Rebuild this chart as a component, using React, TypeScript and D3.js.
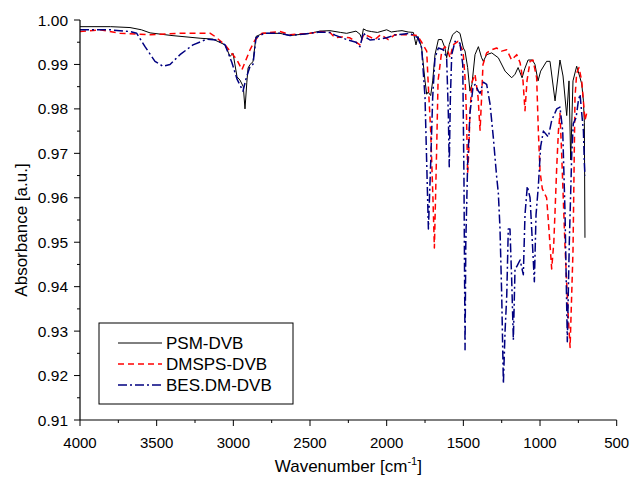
import React from "react";
import * as d3 from "d3";

const xTicks = [4000, 3500, 3000, 2500, 2000, 1500, 1000, 500];
const yTicks = [0.91, 0.92, 0.93, 0.94, 0.95, 0.96, 0.97, 0.98, 0.99, 1.0];
const seriesNames = ["PSM-DVB", "DMSPS-DVB", "BES.DM-DVB"];

const psm: [number, number][] = [
  [4000, 0.9985], [3800, 0.9985], [3674, 0.9983], [3600, 0.9978], [3543, 0.9971], [3400, 0.9965],
  [3217, 0.9959], [3133, 0.9957], [3054, 0.9944], [3022, 0.9918], [3002, 0.9925], [2976, 0.9872],
  [2957, 0.9865], [2935, 0.985], [2924, 0.98], [2912, 0.986], [2904, 0.9892], [2891, 0.99],
  [2872, 0.9906], [2852, 0.9963], [2807, 0.997], [2696, 0.997], [2630, 0.9965], [2500, 0.997],
  [2435, 0.9975], [2370, 0.9976], [2300, 0.9972], [2261, 0.997], [2200, 0.9975], [2174, 0.9968],
  [2163, 0.9958], [2152, 0.998], [2130, 0.9976], [2100, 0.9974], [2060, 0.9972], [2000, 0.9978],
  [1970, 0.9973], [1930, 0.9975], [1900, 0.9976], [1860, 0.9973], [1826, 0.9972], [1809, 0.9944],
  [1796, 0.9963], [1783, 0.995], [1772, 0.9937], [1750, 0.9863], [1739, 0.9833], [1730, 0.9838],
  [1713, 0.983], [1700, 0.9863], [1685, 0.9922], [1663, 0.9956], [1641, 0.9956], [1620, 0.9937],
  [1609, 0.9915], [1592, 0.9945], [1570, 0.9967], [1543, 0.9975], [1522, 0.997], [1500, 0.9937],
  [1489, 0.993], [1472, 0.9893], [1457, 0.984], [1444, 0.9855], [1424, 0.9922], [1402, 0.994],
  [1381, 0.9915], [1370, 0.9907], [1348, 0.9922], [1315, 0.9926], [1272, 0.9915], [1228, 0.9885],
  [1185, 0.987], [1163, 0.9878], [1143, 0.9893], [1117, 0.987], [1100, 0.989], [1078, 0.991],
  [1050, 0.991], [1033, 0.99], [1013, 0.9863], [996, 0.9885], [957, 0.9907], [935, 0.9907],
  [902, 0.9818], [870, 0.991], [850, 0.9874], [826, 0.9785], [811, 0.9863], [800, 0.9685],
  [785, 0.9863], [761, 0.9896], [739, 0.987], [728, 0.9856], [717, 0.9818], [711, 0.977], [707, 0.951],
];

const dmsps: [number, number][] = [
  [4000, 0.9974], [3870, 0.9978], [3740, 0.997], [3543, 0.9967], [3350, 0.997], [3150, 0.997],
  [3120, 0.9963], [3054, 0.9944], [2976, 0.991], [2944, 0.9888], [2918, 0.991], [2891, 0.9933],
  [2859, 0.9955], [2813, 0.997], [2696, 0.9974], [2630, 0.9967], [2500, 0.997], [2435, 0.9974],
  [2370, 0.9972], [2337, 0.996], [2300, 0.9962], [2240, 0.996], [2174, 0.9944], [2150, 0.9968],
  [2109, 0.9962], [2076, 0.9956], [2040, 0.9967], [1989, 0.9956], [1946, 0.9967], [1900, 0.9967],
  [1860, 0.9967], [1826, 0.9966], [1800, 0.9965], [1772, 0.995], [1739, 0.993], [1730, 0.9863],
  [1713, 0.975], [1698, 0.9596], [1689, 0.9487], [1674, 0.9712], [1665, 0.9863], [1641, 0.993],
  [1620, 0.994], [1600, 0.993], [1587, 0.9915], [1567, 0.9944], [1535, 0.9952], [1502, 0.993],
  [1489, 0.987], [1480, 0.979], [1472, 0.9655], [1465, 0.97], [1457, 0.979], [1444, 0.986],
  [1424, 0.9878], [1404, 0.9826], [1391, 0.9752], [1381, 0.9826], [1372, 0.99], [1348, 0.9926],
  [1315, 0.9933], [1283, 0.9937], [1250, 0.993], [1217, 0.9933], [1185, 0.991], [1152, 0.9922],
  [1130, 0.9904], [1111, 0.9863], [1098, 0.9796], [1085, 0.9863], [1065, 0.9907], [1046, 0.991],
  [1022, 0.987], [1011, 0.975], [1000, 0.966], [985, 0.962], [957, 0.96], [940, 0.952],
  [924, 0.944], [910, 0.95], [902, 0.957], [891, 0.967], [880, 0.975], [870, 0.979],
  [859, 0.97], [837, 0.949], [817, 0.934], [804, 0.9263], [785, 0.948], [772, 0.9826],
  [761, 0.988], [746, 0.9893], [728, 0.9863], [707, 0.9774], [696, 0.979],
];

const besdm: [number, number][] = [
  [4000, 0.9978], [3804, 0.9978], [3674, 0.9974], [3630, 0.997], [3576, 0.994], [3511, 0.9907],
  [3459, 0.9896], [3413, 0.99], [3348, 0.9922], [3263, 0.9944], [3172, 0.9957], [3107, 0.9955],
  [3054, 0.9944], [3009, 0.9904], [2976, 0.9867], [2937, 0.984], [2918, 0.9867], [2891, 0.9896],
  [2872, 0.99], [2852, 0.996], [2800, 0.997], [2696, 0.997], [2630, 0.9965], [2500, 0.997],
  [2435, 0.9973], [2370, 0.9972], [2337, 0.9966], [2261, 0.9956], [2200, 0.995], [2174, 0.994],
  [2152, 0.9972], [2130, 0.996], [2109, 0.9955], [2050, 0.9957], [2000, 0.996], [1950, 0.9966],
  [1900, 0.9968], [1848, 0.997], [1796, 0.996], [1772, 0.9937], [1750, 0.9826], [1739, 0.9678],
  [1728, 0.953], [1713, 0.9678], [1700, 0.9826], [1685, 0.9915], [1663, 0.9937], [1631, 0.9933],
  [1609, 0.9915], [1598, 0.9789], [1592, 0.967], [1585, 0.982], [1576, 0.9922], [1554, 0.9952],
  [1522, 0.9948], [1504, 0.99], [1496, 0.9641], [1489, 0.9258], [1484, 0.95], [1472, 0.9678],
  [1457, 0.979], [1437, 0.9849], [1424, 0.9855], [1402, 0.984], [1391, 0.9835], [1370, 0.986],
  [1348, 0.9855], [1326, 0.9811], [1305, 0.9737], [1283, 0.9648], [1272, 0.9611], [1261, 0.953],
  [1250, 0.9382], [1239, 0.9182], [1228, 0.93], [1217, 0.938], [1207, 0.953], [1196, 0.953],
  [1185, 0.9418], [1174, 0.928], [1163, 0.9442], [1152, 0.9445], [1130, 0.946], [1109, 0.9427],
  [1098, 0.9562], [1083, 0.9626], [1065, 0.96], [1048, 0.9487], [1037, 0.9411], [1026, 0.9562],
  [1011, 0.9626], [996, 0.9715], [978, 0.975], [946, 0.9737], [924, 0.9774], [891, 0.98],
  [870, 0.9804], [852, 0.975], [837, 0.9567], [822, 0.9276], [809, 0.95], [793, 0.97],
  [783, 0.9767], [765, 0.978], [750, 0.9818], [739, 0.9833], [728, 0.979], [717, 0.975],
  [711, 0.9678], [707, 0.965],
];

const W = 632;
const H = 479;
const m = { left: 80, right: 15.3, top: 20, bottom: 59 };

export default function App() {
  const x = d3.scaleLinear().domain([4000, 500]).range([m.left, W - m.right]);
  const y = d3.scaleLinear().domain([0.91, 1.0]).range([H - m.bottom, m.top]);
  const line = d3
    .line<[number, number]>()
    .x((d) => x(d[0]))
    .y((d) => y(d[1]));

  const xMinor = d3.range(3750, 500, -500);
  const yMinor = d3.range(0, 9).map((i) => 0.915 + i * 0.01);
  const font = "Liberation Sans, Arial, sans-serif";

  const styles = [
    { color: "#000000", dash: undefined as string | undefined, width: 1, data: psm },
    { color: "#ff0000", dash: "6,4", width: 1.5, data: dmsps },
    { color: "#000080", dash: "9,3,2,3", width: 1.5, data: besdm },
  ];

  const lg = { x: 99, y: 323, w: 194, h: 81 };

  return (
    <svg
      width={W}
      height={H}
      style={{ position: "absolute", left: 0, top: 0, background: "#fff" }}
      fontFamily={font}
    >
      <rect width={W} height={H} fill="#fff" />
      {styles.map((s, i) => (
        <path
          key={i}
          d={line(s.data) || ""}
          fill="none"
          stroke={s.color}
          strokeWidth={s.width}
          strokeDasharray={s.dash}
          strokeLinejoin="round"
        />
      ))}
      <line x1={m.left} x2={m.left} y1={m.top} y2={H - m.bottom} stroke="#000" strokeWidth={1.2} />
      <line x1={m.left} x2={W - m.right} y1={H - m.bottom} y2={H - m.bottom} stroke="#000" strokeWidth={1.2} />
      {xTicks.map((t) => (
        <g key={t}>
          <line x1={x(t)} x2={x(t)} y1={H - m.bottom} y2={H - m.bottom + 6} stroke="#000" />
          <text x={x(t)} y={H - m.bottom + 28} textAnchor="middle" fontSize={15} fill="#000">
            {t}
          </text>
        </g>
      ))}
      {xMinor.map((t) => (
        <line key={t} x1={x(t)} x2={x(t)} y1={H - m.bottom} y2={H - m.bottom + 3} stroke="#000" />
      ))}
      {yTicks.map((t) => (
        <g key={t}>
          <line x1={m.left - 6} x2={m.left} y1={y(t)} y2={y(t)} stroke="#000" />
          <text x={m.left - 12} y={y(t) + 5.5} textAnchor="end" fontSize={15.5} fill="#000">
            {t.toFixed(2)}
          </text>
        </g>
      ))}
      {yMinor.map((t) => (
        <line key={t} x1={m.left - 3} x2={m.left} y1={y(t)} y2={y(t)} stroke="#000" />
      ))}
      <text x={(m.left + W - m.right) / 2} y={472} textAnchor="middle" fontSize={17} fill="#000">
        Wavenumber [cm
        <tspan dy={-7} fontSize={11}>-1</tspan>
        <tspan dy={7}>]</tspan>
      </text>
      <text
        transform={`translate(27, 230) rotate(-90)`}
        textAnchor="middle"
        fontSize={17}
        fill="#000"
      >
        Absorbance [a.u.]
      </text>
      <rect x={lg.x} y={lg.y} width={lg.w} height={lg.h} fill="#fff" stroke="#000" strokeWidth={1} />
      {styles.map((s, i) => (
        <g key={i}>
          <line
            x1={118}
            x2={162}
            y1={lg.y + 20 + i * 21}
            y2={lg.y + 20 + i * 21}
            stroke={s.color}
            strokeWidth={s.width}
            strokeDasharray={s.dash}
          />
          <text x={166} y={lg.y + 26 + i * 21} fontSize={17} fill="#000">
            {seriesNames[i]}
          </text>
        </g>
      ))}
    </svg>
  );
}
